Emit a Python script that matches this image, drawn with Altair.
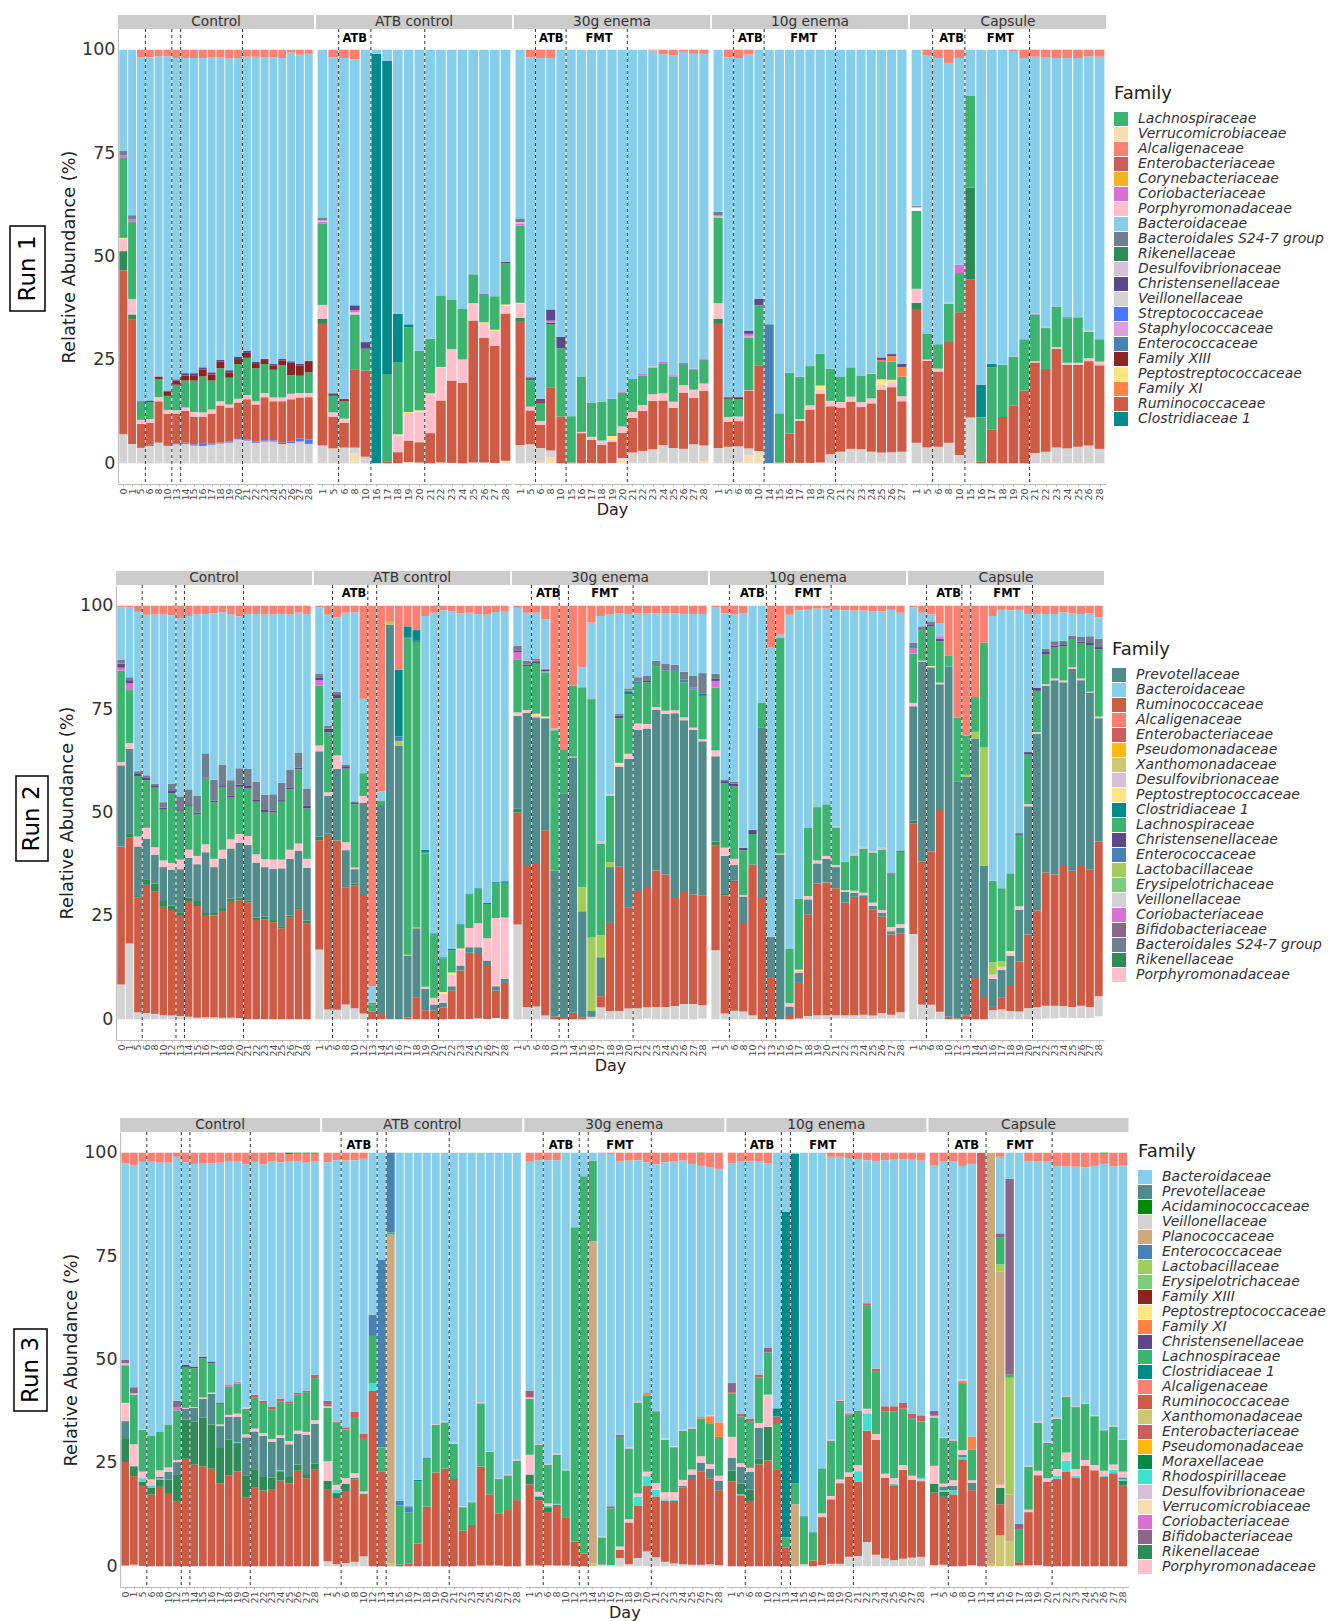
import altair as alt
import pandas as pd

FAMILIES = {
 'A':'Alcaligenaceae','B':'Bacteroidaceae','C':'Christensenellaceae','D':'Clostridiaceae 1','E':'Enterobacteriaceae',
 'F':'Family XI','G':'Veillonellaceae','H':'Streptococcaceae','I':'Bifidobacteriaceae','J':'Coriobacteriaceae',
 'K':'Rikenellaceae','L':'Lachnospiraceae','M':'Moraxellaceae','N':'Enterococcaceae','O':'Corynebacteriaceae',
 'P':'Porphyromonadaceae','Q':'Pseudomonadaceae','R':'Ruminococcaceae','S':'Bacteroidales S24-7 group','T':'Rhodospirillaceae',
 'U':'Staphylococcaceae','V':'Prevotellaceae','W':'Verrucomicrobiaceae','X':'Family XIII','Y':'Peptostreptococcaceae',
 'Z':'Desulfovibrionaceae','a':'Acidaminococcaceae','b':'Planococcaceae','c':'Lactobacillaceae','d':'Erysipelotrichaceae','e':'Xanthomonadaceae',
}
COLORS = {
 'Lachnospiraceae':'#3CB371','Verrucomicrobiaceae':'#F5DEB3','Alcaligenaceae':'#FA8072','Enterobacteriaceae':'#CD5C5C',
 'Corynebacteriaceae':'#EEB422','Coriobacteriaceae':'#DA70D6','Porphyromonadaceae':'#FFC0CB','Bacteroidaceae':'#87CEEB',
 'Bacteroidales S24-7 group':'#708090','Rikenellaceae':'#2E8B57','Desulfovibrionaceae':'#D8BFD8','Christensenellaceae':'#5D478B',
 'Veillonellaceae':'#D3D3D3','Streptococcaceae':'#4876FF','Staphylococcaceae':'#DDA0DD','Enterococcaceae':'#4682B4',
 'Family XIII':'#8B2323','Peptostreptococcaceae':'#FFE680','Family XI':'#FF8247','Ruminococcaceae':'#CD5B45','Clostridiaceae 1':'#008B8B',
 'Prevotellaceae':'#528B8B','Pseudomonadaceae':'#FFB90F','Xanthomonadaceae':'#CDC673','Lactobacillaceae':'#A2CD5A',
 'Erysipelotrichaceae':'#7CCD7C','Bifidobacteriaceae':'#8B668B','Acidaminococcaceae':'#008B00','Planococcaceae':'#CDAA7D',
 'Moraxellaceae':'#008B45','Rhodospirillaceae':'#40E0D0',
}
LEGEND_1 = ['Lachnospiraceae','Verrucomicrobiaceae','Alcaligenaceae','Enterobacteriaceae','Corynebacteriaceae','Coriobacteriaceae','Porphyromonadaceae','Bacteroidaceae','Bacteroidales S24-7 group','Rikenellaceae','Desulfovibrionaceae','Christensenellaceae','Veillonellaceae','Streptococcaceae','Staphylococcaceae','Enterococcaceae','Family XIII','Peptostreptococcaceae','Family XI','Ruminococcaceae','Clostridiaceae 1']
LEGEND_2 = ['Prevotellaceae','Bacteroidaceae','Ruminococcaceae','Alcaligenaceae','Enterobacteriaceae','Pseudomonadaceae','Xanthomonadaceae','Desulfovibrionaceae','Peptostreptococcaceae','Clostridiaceae 1','Lachnospiraceae','Christensenellaceae','Enterococcaceae','Lactobacillaceae','Erysipelotrichaceae','Veillonellaceae','Coriobacteriaceae','Bifidobacteriaceae','Bacteroidales S24-7 group','Rikenellaceae','Porphyromonadaceae']
LEGEND_3 = ['Bacteroidaceae','Prevotellaceae','Acidaminococcaceae','Veillonellaceae','Planococcaceae','Enterococcaceae','Lactobacillaceae','Erysipelotrichaceae','Family XIII','Peptostreptococcaceae','Family XI','Christensenellaceae','Lachnospiraceae','Clostridiaceae 1','Alcaligenaceae','Ruminococcaceae','Xanthomonadaceae','Enterobacteriaceae','Pseudomonadaceae','Moraxellaceae','Rhodospirillaceae','Desulfovibrionaceae','Verrucomicrobiaceae','Coriobacteriaceae','Bifidobacteriaceae','Rikenellaceae','Porphyromonadaceae']

PANEL_NAMES = ['Control','ATB control','30g enema','10g enema','Capsule']

# Each bar: family code + upper boundary of that family's band, read bottom to top.
R1_DAYS = [[0,1,5,6,8,10,13,14,15,16,17,18,19,20,21,22,23,24,25,26,27,28],
           [1,5,6,8,10,16,17,18,19,20,21,22,23,24,25,26,27,28],
           [1,5,6,8,10,15,16,17,18,19,20,21,22,23,24,25,26,27,28],
           [1,5,6,8,10,14,15,16,17,18,19,20,21,22,23,24,25,26,27],
           [1,5,6,8,10,15,16,17,18,19,20,21,22,23,24,25,26,28]]
R1_LINES = [[3.5,6.5,7.5,14.5],[2.5,5.5,10.5],[2.5,5.5,11.5],[2.5,5.5,12.5],[2.5,5.5,11.5]]
R1_TEXT = [[],[('ATB',4)],[('ATB',4.05),('FMT',8.73)],[('ATB',4.16),('FMT',9.39)],[('ATB',4.27),('FMT',8.79)]]
R1_CONTROL = ["G7 R46.7 K51.3 P54.3 Y54.5 L74 J74.5 S75.5 B100","G4.7 R34.8 K36 P39.7 L58.5 J59 S60 B100",
"G3.7 H3.9 R9.5 P10.5 L14.7 C15 B98.2 A100","G4.2 H4.5 R9.8 P10.7 L14.8 C15.2 B98.2 A100","G5 R15 P16 L20.3 X21 B98.4 A100",
"G4.2 H4.4 R12 P12.9 L16.3 X17.4 C17.6 B98.4 A100","G4.6 H4.7 R12 P12.8 L19 X20 C20.3 B98 A100","G4.7 H5 R12.7 P13.5 L20 X21.2 C21.8 B98 A100",
"G4.3 H4.6 R11.2 P12.4 L20 X21.3 C21.8 B98 A100","G4.2 H4.7 R11.3 P12.3 L21 X22.7 C23.2 B98 A100","G4.5 H4.8 R12 P13 L20 X21.5 C22 B98.1 A100",
"G4.8 H5 R14 P15 L23 X24.6 C25 B98.1 A100","G5 H5.3 R13.5 P14.2 L20.7 X22 C22.5 B97.9 A100","G5.8 H6.1 R14.7 P15.6 L24 X25.2 C25.7 B98 A100",
"G5.5 H5.8 R15.5 P16.5 L25.5 X26.7 C27.2 B98.3 A100","G5 H5.2 R14.2 P15 L23 X24 C24.5 B98.3 A100","G5.3 H5.6 R16 P17 L24 X25 C25.3 B98.2 A100",
"G5.3 H5.6 R15 P15.9 L22.6 X23.6 C24 B98.2 A100","G4.7 H5 R15 P15.9 L23.7 X24.9 C25.2 B98 A100","G4.9 H5.3 R15.5 P16.8 L21.3 X24.3 C24.7 B99.3 A100",
"G5.3 H6 R15.9 P17 L21.2 X23.6 C24 B98.8 A100","G4.7 H5.8 R16 P17 L22 X24.5 C24.8 B99 A100"]
R1_ATBC = ["G4.3 R33.7 K35 P38.3 L58 J58.4 Z58.7 S59.3 B100","G3.6 R11.3 P12.3 L16.3 C16.8 S17.1 B98.2 A100","G3.8 R9.8 P10.8 L15 X15.3 C15.6 B98 A100",
"W2.4 G3.8 R22.6 L36 P36.5 J37 C38.2 B97.7 A100","G1.6 R22.4 L27.7 C29.3 B100","D99 B100","R.5 L21.6 D97.3 B100","R2.7 P6.7 Y7 L24.5 D36.2 B100",
"W.3 R5.5 P12.2 Y12.4 L32.8 D33.6 B100","W.2 R5.1 P12.5 Y12.8 L27.2 B100","R7.3 P16.7 Y16.9 L30.1 B100","W.2 R15.2 P23.2 Y23.3 L40.6 B100",
"W.1 R20 P27.6 L39.5 B100","R19.5 P25 Y25.1 L37.3 B100","W.2 R34.5 P38.5 Y38.7 L45.7 B100","W.2 R30.3 P33.9 Y34.1 L40.7 C40.9 B100",
"W.1 R28.4 P32 Y32.3 L40.4 B100","W.6 R36.2 P38.1 Y38.4 L48.3 C48.7 B100"]
R1_30G = ["G4.4 R34.2 K35.2 P38.6 Y38.8 L57.5 J58 Z58.3 S59.2 B100","W.2 G4.6 R12.8 P13.7 L20.2 X20.4 C20.7 S21 B98.2 A100","W.3 G3.7 R9.3 P10.2 L14.6 X15 C15.6 B98 A100",
"W1.5 G3.1 R18.4 L33.7 X34 J34.5 C37.2 B98 A100","R11.3 L27.8 C30.6 B100","R.2 L11.4 B100","R7.3 P7.6 L21 B100","W.1 R5.7 P6.4 L14.7 B100","R4.5 P5.5 L14.9 B100",
"W.1 R5.2 P5.7 Y6.6 L15.6 B100","W1 G1.3 R7.4 P8.9 L17.1 J17.4 B100","W.1 G2.6 R11 P12.4 L20.4 B100","W.1 G3 R12.7 P14.1 L21.2 J21.6 B100",
"W.1 G3.4 R15.1 P16.7 L23.2 Z23.5 B99.8 A100","W.2 G4.4 R15.2 P16.9 L24.2 J24.5 B98.9 A100","W.1 G3.7 R13.4 P14.9 L21 J21.3 B98.6 A100",
"W.2 G3.5 R17 P18.9 L23.9 C24.2 B99.5 A100","W.1 G4.6 R15.8 P17.8 L22.6 J22.9 B99 A100","W.4 G4.3 R17.5 P19.3 L25 J25.4 B99 A100"]
R1_10G = ["G3.7 R33.7 K35 P38.7 L59.4 Z59.8 J60 S60.8 B100","G4 R10 P11.2 L15.6 X15.8 C16 B98.2 A100","W.2 G4.1 R10.2 P11.3 L15.5 X16 B98 A100",
"W2 G3.6 R17.6 P17.7 L30.3 U30.8 J31.3 C32.1 B98.8 A100","W3 R23.7 L38.2 C39.8 B100","N33.6 B100","R.2 L12.1 B100","W.1 R7.2 L21.9 B100","W.1 R10.3 P10.7 L20.9 B100",
"W.1 R13 P14 L23.5 B100","W.2 R16.8 P17.7 Y18.8 L26.5 B100","W.1 G2.2 R13.8 P15.1 L22.9 B100","W.1 G2.8 R13.5 P14.8 L21 B100","W.1 G3.5 R14.9 P16.1 L23.2 B100",
"W.1 G3.4 R13.6 P14.8 L21.1 C21.2 B100","W.1 G2.8 R14.5 P15.7 L21.6 Z21.8 B100","W.2 G2.6 R17.8 P19 Y20.3 L24.7 F25 C25.6 B100","G2.7 R18.4 P19.6 Y20.2 L24.6 F25.9 C26.4 B100",
"G2.8 R15 P16.2 L21 F23.3 C24 B100"]
R1_CAPS = ["G5 R37.3 K38.8 P42.2 L61 I61.7 Z62 S62.3 B100","G3.8 R24.8 P25.1 L31.4 B98.6 A100","G4 R22.2 P22.9 L28.8 B98 A100","G5 R29.3 L38.6 Z38.8 B96.8 A100",
"G2 R36.5 L46 J48 B98 A100","G11.1 R44.5 K66.7 L88.8 B100","R.5 L11 O11.1 D19 B100","R8.1 L23.2 D24 B100","R11.2 L23.8 B100","R14 L25.8 B99.7 A100","R17.6 L30 B98 A100",
"G2.5 R24.4 P24.7 L36 J36.2 B98.3 A100","G2.8 R22.8 L32.7 Z33 B98.1 A100","G3.8 R27.7 P28.1 L37.9 B98 A100","G3.6 R23.8 P24.3 L35.1 J35.4 B98 A100",
"G4 R23.8 P24.3 L35.2 J35.4 B98 A100","G4.3 R24.7 P25.4 L31.8 Z32.2 B98.4 A100","G3.5 R23.7 P24.6 L30 B98.3 A100"]

R2_DAYS = [[0,1,5,6,8,10,12,13,14,15,16,17,18,19,20,21,22,23,24,25,26,27,28],
           [1,5,6,8,10,12,13,14,15,16,17,18,19,20,21,22,23,24,25,26,27,28],
           [1,5,6,8,10,13,14,15,16,17,18,19,20,21,22,23,24,25,26,27,28],
           [1,5,6,8,10,12,13,15,16,17,18,19,20,21,22,23,24,25,26,27,28],
           [1,5,6,8,10,12,13,14,15,16,17,18,19,20,21,22,23,24,25,26,27,28]]
R2_LINES = [[3.5,7.5,8.5,15.5],[2.5,6.5,7.5,14.5],[2.5,5.5,6.5,13.5],[2.5,6.5,7.5,13.5],[2.5,6.5,7.5,14.5]]
R2_TEXT = [[],[('ATB',4.93)],[('ATB',4.33),('FMT',10.44)],[('ATB',4.98),('FMT',11)],[('ATB',5),('FMT',11.6)]]
R2_CONTROL = ["G8.4 R41.8 V61.4 P62.2 L84.3 J85 C86 S87 B99.6 A100","G18.3 R44 K45 V65.4 P66.8 L79.6 J81.2 C82 S82.7 B99.6 A100","G1.7 R29.4 K29.8 V41.8 P44.2 L58.8 C59.5 S60 B98.5 A100",
"G1.5 R32.5 K33.7 V43.7 P46.3 L57.8 C58.5 S59 B97.8 A100","G1.3 R31 K32.8 V39.8 P41.6 L56 C56.6 S57 B97.9 A100","G1 R27.2 K28.6 V36.8 P38.4 L50.7 C51.2 S52.5 B97.9 A100",
"G.9 R26.4 K27.5 V36.1 P37.8 L54.6 C55.2 S57 B97.7 A100","G.8 R25.2 K25.9 V36.3 P38.6 L50.4 C50.8 S53.9 B97 A100","G.6 R28.4 K29.5 V39 P41 L51.6 C52 S55.6 B97.5 A100",
"G.4 R27.4 K28.6 V37.5 P39.5 L49.6 C50 S54 B97.9 A100","G.5 R25.2 K25.7 V40.4 P42.3 L58.2 C58.5 S64.3 B98 A100","G.5 R25.1 K25.7 V36.8 P38.8 L52.5 C52.9 S57.9 B98.2 A100",
"G.4 R26.2 K26.9 V38.9 P41 L56.2 C56.6 S61.6 B98.4 A100","G.4 R28.6 K29.2 V41.3 P43.5 L53.6 C54 S57.8 B97.9 A100","G.3 R28.8 K29.4 V42.7 P44.8 L56.2 C56.7 S60.7 B97.4 A100",
"R28.3 K28.8 V42.2 P44.3 L55.8 C56.4 S60.5 B98 A100","R24 K24.6 V37.9 P39.9 L52.6 C53.2 S57.4 B98 A100","R24.2 K24.8 V36.8 P38.7 L50.1 C50.6 S54.3 B97.9 A100",
"R23.5 K24 V36.4 P38.6 L50 C50.4 S54.4 B97.9 A100","R22 K22.5 V36.5 P38.6 L52.6 C53 S57.2 B98 A100","R24.7 K25.1 V38.8 P41 L55.6 C56.1 S60.4 B97.9 A100",
"R26.5 K27.1 V40.7 P42.5 L60.4 C60.9 S64.4 B98.3 A100","R23.1 K23.9 V36.6 P38.8 L51 C51.6 S55.7 B98 A100"]
R2_ATBC = ["G16.9 R43.3 K44.2 V64.8 P66.2 L80.7 J82 C82.7 S83.6 B99.6 A100","G2.4 R44.6 K44.9 V54 P54.9 L69.4 C70.3 S70.9 B97.8 A100","G2.3 R43.2 V60.6 P63.8 L77.6 C78.4 S79.2 B97.2 A100",
"G3.6 R31.8 V40.9 P42.8 L60.6 C61.2 S61.6 B98.3 A100","G2.7 R32.3 K32.8 V36.3 P36.7 L52 C52.3 S52.7 B98.4 A100","G1.4 R29.8 V52.3 P54 L59.5 B77.5 A100","R1.9 L3.6 V4 B8 A100",
"R1.3 V51.8 L52.9 B55.1 A100","V95.4 c96.3 A100","R.1 V66.2 c67.3 N68.4 D84.5 A100","R.4 V15.4 c15.6 L92.1 N92.4 D95 A100","R5.2 V22 c22.2 L91.2 N91.5 D94.1 A100",
"R2.2 V7.4 P7.9 L40.1 N40.3 D41 B97.5 A100","R2.1 V3.6 P5 c5.2 L20.5 D20.8 B98.3 A100","R2.9 V4 P6.2 Y6.6 L14.7 D15 B98.9 A100","W.1 R6.9 V8 P10.7 Y11.3 L16.7 D17 B98.6 A100",
"W.1 R11.8 V13 P16.9 Y17.1 L22.8 D23 B98.2 A100","W.1 R16.1 V17.4 P22.1 L30.2 D30.4 B98.3 A100","W.2 R15.8 V17.4 P23.2 L31.5 D31.7 B98 A100","W.1 R12.9 V14.2 P19.6 L27.9 D28.1 B97.8 A100",
"W.3 R6.9 V8 P24.5 L33 D33.2 B98.5 A100","W.1 R8.8 V9.8 P24.6 L33 D33.4 B98.7 A100"]
R2_30G = ["G22.9 R50 K50.9 V73.4 P74.2 L86.9 J88.8 C89.2 S90.3 B99.5 A100","G3 R37.3 V74.1 P74.8 L85.4 C85.8 S86.7 B98.3 A100","G3.1 R37.8 V73 P73.5 Y73.9 L86 C86.4 I86.7 S87.2 B98.3 A100",
"G.9 R45.7 V72.8 Y73.2 L83.9 Z84.1 C84.5 S84.8 B96.7 A100","R.7 V36 L69.9 B70.3 A100","R.3 V54.5 L65.3 A100","R1.6 V63.2 c63.5 L80.7 A100","R.4 V26.1 c31.9 L80.3 B85.2 A100",
"G.6 V2 c19.8 L77.4 C77.5 B95.9 A100","G2.9 R5.6 V15 c20.3 L42.5 Z43 B97.5 A100","G2 R23.3 V36.8 c38 L54 Z54.4 B97.9 A100","G2 R36.9 V61 P61.6 Y62 L72.8 C73.4 S73.9 B98.1 A100",
"G2.6 R27 V63 P64.2 L78.6 D79.3 N79.5 S80 B98 A100","G2.7 R31 V70 P71.5 L81.3 N81.6 S82.7 B98.1 A100","W.2 G2.9 R32 V70.3 P71.4 L81.5 C81.8 S83 B98.2 A100","G3 R36 V74.8 P75.5 L85.4 S86.7 B98.2 A100",
"G3 R35 V73.9 P74.6 L84.3 N84.7 S85.9 B98.2 A100","G3.2 R29.3 V74 P74.7 L84 N84.4 S85.7 B98.2 A100","G3.7 R31 V72.3 P73 L81.5 N82.1 S84 B98 A100","G3.7 R30.2 V70 P70.5 L79.8 N80 C80.2 S83 B98 A100",
"W.2 G3.4 R30 V67.2 P67.7 L78.2 D78.7 S83.7 B98 A100"]
R2_10G = ["G16.7 R42 K42.9 V63.6 P65 L80.2 J81.8 C82.3 S83.5 B99.6 A100","G1.4 R30 K30.3 V39.5 P41.5 L57 C57.6 S58 B98.2 A100","G2.1 R33.2 K33.5 V37.3 P38.8 L56.3 C57 S57.5 B97.9 A100",
"G1.9 R23.3 V29.7 P30 L40.9 C41.5 B98.1 A100","G1 R37.4 L44.8 C45.8 B100","R29.3 V70.6 L76.5 B100","R10 V20 B90 A100","R.1 V39.8 c40.2 L92.3 B93 A100","R.8 V3.1 P3.9 L17 B97.8 A100",
"G.2 R8.8 V11.2 P11.8 Y12 L29.2 B98.9 A100","G.8 R25.4 V29 P29.8 L46.4 B99 A100","G1 R32.8 V37.7 P38.4 L51.3 B99.3 A100","G1 R33.1 V38.8 P39.5 L52 B99.3 A100","W.2 G1 R31.7 V36.8 P37.3 L46.4 Z46.6 B99 A100",
"W.2 G1 R28.2 V30.8 P31.2 L38.1 B98.9 A100","W.1 G1 R29.6 V30.6 P31.1 L39.6 Z40 B98.8 A100","W.1 G1.1 R29.3 V30 P30.6 L41.3 Z41.7 B98.8 A100","W.1 G.9 R26.6 V27.4 P28.2 L40.3 Z40.6 B98.7 A100",
"W.2 G1.5 R24.8 V25.8 P26.4 L41 Z41.5 B98.6 A100","W.2 G1.1 R20.5 V21.3 P22.3 L35 C35.3 B99 A100","W.2 G1.7 R20.7 V22.1 P23 L40.5 C40.8 B98.3 A100"]
R2_CAPS = ["G20.6 R47.4 K48 V75.7 P76.5 L88.4 J89.6 S91 B99.6 A100","G3.6 R38.1 V86.5 P86.7 L94 C94.1 S95 B98.3 A100","G3.5 R40.6 V85.1 Y85.4 L95 C95.5 S96.2 B97.9 A100",
"G1.8 R50.6 V81 P81.4 L91.4 C92 J92.6 B95.7 A100","R.6 V85.3 L88 A100","R.2 V57.4 L73 A100","R1 V58.6 c59.1 L68.6 A100","R10 V67.9 c69.5 L77.9 A100","R5.4 V37.2 c65.7 L91.1 A100",
"G2.2 R3 V9.8 P10.8 c13.8 L33.5 B97.5 A100","G2.4 R5.2 V11.9 P12.7 c14 L31.7 B99 A100","G2 R8.3 V15.4 P16.2 Y16.5 L35.3 B98.9 A100","G1.9 R14 V26.5 P27.3 L44.6 C45 B99 A100",
"G2.7 R20.5 V51.5 P52 L64 C64.6 B98 A100","G2.9 R26.3 V69 P69.4 L79.4 C80.2 B98 A100","W.2 G3.3 R35.5 V80.6 P81 L88.2 C88.8 S89.6 B98 A100","W.2 G3.3 R35 V82 P82.4 L90 C90.3 S91.4 B98 A100",
"W.4 G3.2 R37.3 V81.5 P81.9 L90.2 C90.5 S91.5 B98.4 A100","W.3 G3 R35.9 V84.7 P85.1 L92 C92.2 S92.8 B98.2 A100","W.3 G3.3 R37.3 V82 P82.4 L91 C91.3 S92.4 B98 A100",
"W.3 G3 R36.3 V79 P79.2 L90.5 C91 S92.6 B98.2 A100","W.7 G5.6 R43 V72.8 P73.2 L89.5 C90 S92 B97.2 A100"]

R3_DAYS = [[0,1,5,6,8,10,12,13,14,15,16,17,18,19,20,21,22,23,24,25,26,27,28],
           [1,5,6,8,10,12,13,14,15,16,17,18,19,20,21,22,23,24,25,26,27,28],
           [1,5,6,8,10,12,13,14,15,16,17,18,19,20,21,22,23,24,25,26,27,28],
           [1,5,6,8,10,12,13,14,15,16,17,18,19,20,21,22,23,24,25,26,27,28],
           [1,5,6,8,10,13,14,15,16,17,18,19,20,21,22,23,24,25,26,27,28]]
R3_LINES = [[3.5,7.5,8.5,15.5],[2.5,6.5,7.5,14.5],[2.5,6.5,7.5,14.5],[2.5,6.5,7.5,14.5],[2.5,6.5,13.5]]
R3_TEXT = [[],[('ATB',4.47)],[('ATB',4.47),('FMT',11)],[('ATB',4.36),('FMT',11.1)],[('ATB',4.46),('FMT',10.08)]]
R3_CONTROL = ["G.2 R25.2 K31 V35.1 P39.3 Y39.5 L48.6 Z49.1 I49.9 B97.5 A100","G.4 R21.8 K24.2 P29.5 L41.5 Z41.8 I43.3 B97 A100","G.1 R19.4 K20.5 T21.2 V21.3 P22.9 L33 Z33.2 B97.8 A100",
"R17.3 K19 T19.6 P21 L31.5 B97.8 A100","R19.2 K20.9 T21.2 V21.7 P23.2 L32.6 B97.6 A100","R17.5 K21 V22.8 P23.9 L34.3 B97.6 A100","R15.8 K22.1 V25.2 P25.7 L37.7 J38.5 I40 B99 A100",
"R26 K35.5 V38.1 P38.3 L48.2 C48.7 B97.7 A100","R24.6 K35 V38.3 P38.5 L47.9 C48.3 B97.3 A100","R24.2 K36 V40.5 P40.8 L50.3 C50.7 B97.5 A100","R23.6 K34.3 V41.7 P42 L49.1 C49.5 B97.5 A100",
"R20 K28.6 V33.9 P34.3 L39.3 C39.6 B97.6 A100","R22 K30.6 V36.1 P36.6 L43.5 J44 B98 A100","R23 K29.8 T30 V36.1 P36.9 L44.2 J44.6 B98 A100","R16.6 K22 V31.2 P31.9 L38.1 Z38.4 B97.2 A100",
"R19 K23.3 V32.6 P33.3 L40.9 E41.5 B97.8 A100","R18.3 K21.8 V31.5 P32.2 L39.5 E40 B97.2 A100","R18.5 K21.5 V30.1 P30.8 L38 E38.6 B98 A99.8 a100","R20.7 K23 T23.2 V31.1 P31.7 L39.9 E40.5 B97.7 A100",
"R20 K21.6 V29.5 P30.3 L39.3 E39.9 B98 A99.7 a100","R23.1 K24.6 V32.1 P32.8 L41.5 E41.9 B98 A99.8 a100","R21.3 K22.3 V31.8 P32.5 L42.1 E42.5 B97.6 A99.8 a100","R23.5 K24.8 V34.5 P35.3 L45.5 E46.3 B97.9 A99.8 a100"]
R3_ATBC = ["G1.2 R18.5 K20.7 P25.4 L38.3 Z38.7 E39.2 I40 B97.7 A100","G.5 R16.5 K17.7 T18.6 P19.7 L34.7 E35 B98.2 A100","G.8 R18 K20 P21.3 L33.1 E33.6 B98.1 A100","G1.1 R21 K21.4 P22.5 L36.1 E37.3 B98.2 A100",
"G2.4 R17.3 K17.6 P18.1 L30.8 E32 B98.5 A100","R42.4 T44.2 L55.7 N60.8 B100","R23 L28.7 N74.2 B100","e.6 b80.2 L80.7 N100","R.4 L14.7 N15.8 B100","R.7 L13 N14.3 D14.5 B100","R5.5 L20.6 D20.9 B100",
"R14.4 L26 D26.2 B100","R22.7 L34.2 Z34.4 B100","R23.6 L34.8 Z35 B100","R21.1 L29.6 Z29.9 B100","R8.6 L14.3 Z14.5 B100","R10 L15.5 Z15.7 B100","W.2 R24.1 L39.4 Z39.7 B100","W.2 R17.4 L27.7 Z27.9 B100",
"W.2 R12.7 L21.1 Z21.3 B100","R13.6 L22 Z22.3 B100","R16 L25.5 Z25.8 B100"]
R3_30G = ["G.2 R19.8 K22.2 P27 L40.5 Z40.8 E41.2 I42.5 B97.8 A100","G.2 R16 K16.8 T17 P18 L29.4 Z29.6 B98.2 A100","G.3 R13.1 K14.3 T14.6 P15.2 L24.6 Z24.8 B98.2 A100","G.2 R14.9 T15.1 L27 Z27.3 B98.2 A100",
"G.2 R11.7 L23.2 Z23.4 B100","R6 L82 B100","R3.1 L94.3 B100","e.7 b78.6 L98.1 B100","G.4 L7 Z7.2 B99.9 A100","G.3 L14 I14.5 B99.7 A100","e.2 G2 R4 Z4.3 P4.8 L31.3 I31.8 B98 A100","G.5 R10.6 P11.4 L28.5 Z28.7 B98.1 A100",
"G2 R14.6 T16.8 P17.6 L39.6 Z39.9 B98.2 A100","G3.6 R19.4 T21.8 P22.9 L41.2 F41.9 B97.7 A100","G2.2 R16.9 T18.5 P20.1 L37.4 E37.6 B97.2 A100","G1.1 R15.9 T16.2 P17.9 L30.6 Z30.9 B97.7 A100","G.7 R15.8 T16.1 P17.9 L28.8 Z29 B97.9 A100",
"G.5 R19 V19.5 P20.9 L32.8 Z33 B98.1 A100","G.4 R21.1 V22.2 P23.4 L33.3 Z33.5 B97.3 A100","G.4 R23 V25.1 P26.6 L35.7 F36.1 B96.8 A99.9 a100","G.5 R21.3 V23.6 P24.7 L34.6 F36.3 Z36.5 B96.4 A100","G.3 R18.4 V20.7 P21.9 L31.3 F34.8 B96.1 A100"]
R3_10G = ["R20.5 K23.2 V26.2 P31.3 L41.8 E42.1 I44.3 B97.5 A100","R17.2 T17.4 K20 V24 P24.9 L36.3 E36.8 B98 A100","R15.8 K18.6 V22.9 P23.8 L35.1 E35.7 B98 A100","R24.6 K26 V33.5 P34.4 Y34.6 L45.7 E46.4 B98 A100",
"R25.6 K33.7 P41.2 Y41.5 L51.7 I52.8 B97.4 A100","R23.3 L34.4 E36.2 D38.2 B100","R4.6 L7 D85.7 B100","b15 L20 D99.8 B100","G.5 L11.9 D12.1 B100","R1.4 L8.2 N8.3 B100","G.3 R11.9 P12.8 L23.7 B100",
"G.6 R16.2 P17 L30.4 Z30.6 B99 A100","G.6 R20.1 P21 L39.7 E40 Z40.2 B99 A100","G2.3 R21.7 P22.7 L36.7 E37 Z37.2 B98.7 A100","G2.5 R20.5 T23 P24.5 L37.3 E37.6 B98.3 A100","G5.9 R32.8 T37 P38.1 L63.1 E63.6 B98.2 A100",
"G2.8 R30.6 P32 L47.2 E47.8 B98 A100","G1.9 R21.4 P22.4 L37.4 E38.7 B98.2 A100","G1.5 R19.6 T20 P21.3 L37.5 E38.7 B98.3 A100","G1.8 R23.3 P24.5 L38.1 E39.5 B98.4 A100","G2.1 R20.9 P21.9 L35.6 N35.8 E36.9 B98.3 A100","G2.3 R20.6 P21.1 T21.4 L35 E36.5 B98.1 A100"]
R3_CAPS = ["G.3 R17.8 K20 P24.3 L36 Z36.4 I37.6 B97 A100","G.4 R16.8 K18 T18.4 V19.3 P20 L31 Z31.2 B98 A100","R17.4 T18.4 V19.5 P20.8 L30.3 Z30.6 B98 A100","R25.7 T26.4 V27 P28.1 L44.3 F44.9 Z45.2 B96.8 A100",
"G.3 R18.4 V20.2 P20.8 L28.3 F31.4 B97.3 A100","E100","e.8 b100","e7.5 R15 K19 P19.7 b71.2 c73 L79.6 I80.5 B99 A100","e6.1 b17.4 c45.6 L46.4 I93.7 B100","e.3 R1 L9 I10.3 B100","G.3 R13.1 P13.7 L24.1 Z24.3 B98 A100",
"G.3 R22 P23.1 L34.7 Z35 B98 A100","R20.4 P21.3 L29.9 Z30.1 B98 A100","R21.2 T21.9 P23.5 L35.7 Z35.9 B96.8 A100","R22.8 T25.5 P27.5 L41 Z41.2 B96.7 A100","R21.4 T21.9 P23.5 L38.5 Z38.7 B96.6 A100","R24.3 P25.7 L39.3 Z39.5 B96.5 A100",
"R23.2 P24.5 L36.3 Z36.5 B96.8 A100","R21.7 T22 P23.1 L32.9 Z33.1 B97.3 A99.8 a100","R22.5 T23.3 P24.6 L33.8 Z34.1 B96.7 A100","R19.5 K20.7 T21 V21.5 P22.9 L30.6 Z30.8 B97 A100"]

R1_BARS = [R1_CONTROL, R1_ATBC, R1_30G, R1_10G, R1_CAPS]
R2_BARS = [R2_CONTROL, R2_ATBC, R2_30G, R2_10G, R2_CAPS]
R3_BARS = [R3_CONTROL, R3_ATBC, R3_30G, R3_10G, R3_CAPS]

H = 455
Y_SCALE = alt.Scale(domain=[-5, 105], nice=False, zero=False)

def rows_of(bars):
    rows = []
    for i, bar in enumerate(bars, start=1):
        lo = 0.0
        for tok in bar.split():
            hi = float(tok[1:])
            rows.append(dict(x0=i-0.45, x1=i+0.45, lo=lo, hi=hi, family=FAMILIES[tok[0]]))
            lo = hi
    return pd.DataFrame(rows)

def panel(name, days, bars, lines, notes, legend_order, lx, ly, W, first, middle, note_y):
    n = len(days)
    xs = alt.Scale(domain=[0.4, n+0.6], nice=False, zero=False)
    labels = "[" + ",".join("'%d'" % d for d in days) + "]"
    xaxis = alt.Axis(values=list(range(1, n+1)), labelExpr=labels+"[datum.value-1]", labelAngle=270, labelAlign='right',
                     labelBaseline='middle', labelFontSize=9.5, labelColor='#4d4d4d', labelPadding=2, labelOverlap=False, labelFlush=False,
                     labelSeparation=0, tickSize=2, tickColor='#bbbbbb', domainColor='#bbbbbb', grid=False, title='Day' if middle else None,
                     titleFontSize=16, titleFontWeight='normal', titleColor='#222222', titlePadding=1)
    if first:
        yaxis = alt.Axis(values=[0,25,50,75,100], labelFontSize=17.5, labelColor='#333333', grid=False, ticks=False, labelPadding=3,
                         domainColor='#bbbbbb', title='Relative Abundance (%)', titleFontSize=17.7, titleFontWeight='normal', titleColor='#222222', titlePadding=3)
    else:
        yaxis = None
    color = alt.Color('family:N', scale=alt.Scale(domain=legend_order, range=[COLORS[f] for f in legend_order]),
                      legend=alt.Legend(title='Family', orient='none', legendX=lx, legendY=ly, symbolType='square', symbolSize=196, symbolStrokeWidth=0,
                                        symbolOpacity=1, labelFontSize=14, labelFontStyle='italic', labelColor='#333333', labelOffset=10, labelLimit=260,
                                        titleFontSize=18, titleFontWeight='normal', titleColor='#222222', titlePadding=9, rowPadding=1, values=legend_order))
    bars_layer = alt.Chart(rows_of(bars)).mark_rect().encode(
        x=alt.X('x0:Q', scale=xs, axis=xaxis), x2='x1:Q',
        y=alt.Y('lo:Q', scale=Y_SCALE, axis=yaxis), y2='hi:Q', color=color)
    rule_layer = alt.Chart(pd.DataFrame({'p': lines})).mark_rule(color='#333333', strokeDash=[3,3], strokeWidth=1).encode(x=alt.X('p:Q', scale=xs, axis=xaxis))
    strip = alt.Chart(pd.DataFrame({'t': [name]}))
    strip_rect = strip.mark_rect(color='#cccccc').encode(x=alt.value(0), x2=alt.value(W), y=alt.value(-14), y2=alt.value(0))
    strip_text = strip.mark_text(fontSize=13.75, color='#333333', baseline='middle').encode(x=alt.value(W/2), y=alt.value(-7), text='t:N')
    layers = [bars_layer, rule_layer, strip_rect, strip_text]
    if notes:
        nd = pd.DataFrame({'t': [a for a, _ in notes], 'p': [b for _, b in notes], 'y': [note_y]*len(notes)})
        layers.append(alt.Chart(nd).mark_text(fontSize=11.5, fontWeight='bold', color='black', baseline='middle').encode(
            x=alt.X('p:Q', scale=xs, axis=xaxis), y=alt.Y('y:Q', scale=Y_SCALE, axis=yaxis), text='t:N'))
    return alt.layer(*layers).properties(width=W, height=H)

def lead(label, width, x0, x1, y0, y1):
    d = alt.Chart(pd.DataFrame({'t': [label]}))
    box = d.mark_rect(filled=False, stroke='black', strokeWidth=1.5).encode(x=alt.value(x0), x2=alt.value(x1), y=alt.value(y0), y2=alt.value(y1))
    txt = d.mark_text(fontSize=23, angle=270, color='black', baseline='middle').encode(x=alt.value((x0+x1)/2), y=alt.value((y0+y1)/2), text='t:N')
    return alt.layer(box, txt).properties(width=width, height=H)

def row(label, lead_w, box, days, bars, lines, notes, legend_order, lx, ly, W, gap, note_y):
    items = [lead(label, lead_w, *box)]
    for i, nm in enumerate(PANEL_NAMES):
        items.append(panel(nm, days[i], bars[i], lines[i], notes[i], legend_order, lx, ly, W, i == 0, i == 2, note_y))
    return alt.hconcat(*items, spacing=gap, bounds='flush').resolve_scale(color='shared')

r1 = row('Run 1', 108, (2, 37, 197, 282), R1_DAYS, R1_BARS, R1_LINES, R1_TEXT, LEGEND_1, 1106, 56, 196, 2, 102.6)
r2 = row('Run 2', 106, (8, 40, 191, 276), R2_DAYS, R2_BARS, R2_LINES, R2_TEXT, LEGEND_2, 1104, 56, 196, 2, 102.8)
r3 = row('Run 3', 110, (6, 39, 197, 279), R3_DAYS, R3_BARS, R3_LINES, R3_TEXT, LEGEND_3, 1130, 11, 200, 2.1, 101.5)

top = alt.vconcat(r1, r2, spacing=53).resolve_scale(color='independent')
chart = alt.vconcat(top, r3, spacing=44).resolve_scale(color='independent').properties(
    padding={'left': 0, 'top': 7, 'right': 0, 'bottom': 0}
).configure(font='DejaVu Sans').configure_view(stroke=None)

chart.save("out.html", embed_options={"renderer": "svg", "actions": False})
